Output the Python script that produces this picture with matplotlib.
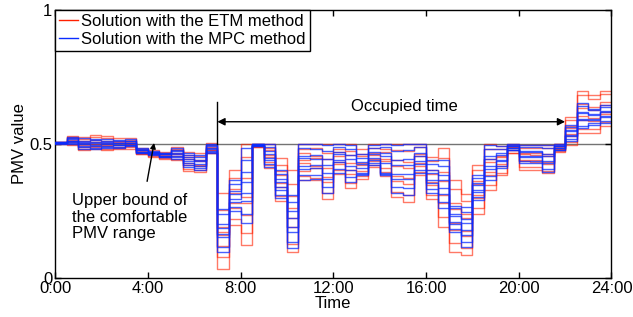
import numpy as np
import matplotlib
matplotlib.use('Agg')
import matplotlib.pyplot as plt
from matplotlib.lines import Line2D

plt.rcParams['font.family'] = ['Liberation Sans', 'DejaVu Sans']

# PMV of each half-hour slot (0:00 ... 23:30), 8 cases per slot
etm_pmv = [
    [0.500, 0.501, 0.502, 0.503, 0.504, 0.506, 0.507, 0.508],
    [0.495, 0.499, 0.506, 0.511, 0.514, 0.520, 0.527, 0.530],
    [0.476, 0.481, 0.489, 0.494, 0.502, 0.509, 0.517, 0.526],
    [0.479, 0.488, 0.493, 0.499, 0.508, 0.513, 0.525, 0.532],
    [0.476, 0.480, 0.490, 0.496, 0.503, 0.512, 0.520, 0.530],
    [0.480, 0.485, 0.489, 0.495, 0.502, 0.508, 0.512, 0.520],
    [0.482, 0.489, 0.493, 0.499, 0.503, 0.507, 0.515, 0.520],
    [0.461, 0.463, 0.467, 0.471, 0.472, 0.477, 0.479, 0.483],
    [0.452, 0.456, 0.459, 0.460, 0.464, 0.469, 0.471, 0.476],
    [0.445, 0.447, 0.451, 0.456, 0.459, 0.461, 0.467, 0.470],
    [0.440, 0.445, 0.455, 0.461, 0.466, 0.476, 0.480, 0.489],
    [0.400, 0.407, 0.421, 0.427, 0.442, 0.449, 0.458, 0.470],
    [0.396, 0.402, 0.417, 0.422, 0.436, 0.441, 0.455, 0.464],
    [0.464, 0.467, 0.475, 0.478, 0.486, 0.489, 0.496, 0.501],
    [0.035, 0.079, 0.118, 0.162, 0.171, 0.189, 0.252, 0.318],
    [0.197, 0.221, 0.262, 0.279, 0.318, 0.330, 0.371, 0.402],
    [0.123, 0.168, 0.236, 0.278, 0.300, 0.371, 0.449, 0.500],
    [0.487, 0.488, 0.492, 0.493, 0.496, 0.497, 0.499, 0.500],
    [0.410, 0.420, 0.433, 0.451, 0.458, 0.477, 0.485, 0.500],
    [0.288, 0.305, 0.339, 0.352, 0.384, 0.398, 0.421, 0.448],
    [0.097, 0.128, 0.190, 0.224, 0.262, 0.306, 0.351, 0.402],
    [0.365, 0.379, 0.398, 0.427, 0.438, 0.466, 0.479, 0.500],
    [0.365, 0.372, 0.408, 0.419, 0.447, 0.456, 0.486, 0.500],
    [0.294, 0.317, 0.358, 0.376, 0.409, 0.445, 0.466, 0.500],
    [0.388, 0.401, 0.425, 0.433, 0.455, 0.470, 0.481, 0.500],
    [0.337, 0.352, 0.389, 0.404, 0.428, 0.459, 0.473, 0.500],
    [0.367, 0.379, 0.397, 0.421, 0.429, 0.455, 0.463, 0.480],
    [0.414, 0.420, 0.436, 0.442, 0.458, 0.466, 0.486, 0.500],
    [0.380, 0.394, 0.411, 0.436, 0.445, 0.470, 0.480, 0.500],
    [0.300, 0.322, 0.362, 0.380, 0.417, 0.439, 0.476, 0.500],
    [0.284, 0.309, 0.350, 0.371, 0.411, 0.433, 0.472, 0.500],
    [0.383, 0.395, 0.419, 0.428, 0.455, 0.462, 0.488, 0.500],
    [0.296, 0.311, 0.345, 0.357, 0.389, 0.401, 0.434, 0.452],
    [0.190, 0.226, 0.279, 0.309, 0.362, 0.393, 0.446, 0.483],
    [0.097, 0.129, 0.180, 0.205, 0.256, 0.281, 0.333, 0.365],
    [0.085, 0.110, 0.156, 0.176, 0.222, 0.240, 0.286, 0.312],
    [0.240, 0.259, 0.297, 0.311, 0.349, 0.362, 0.401, 0.420],
    [0.327, 0.345, 0.383, 0.395, 0.432, 0.445, 0.481, 0.500],
    [0.383, 0.392, 0.418, 0.424, 0.449, 0.455, 0.480, 0.490],
    [0.464, 0.467, 0.476, 0.478, 0.487, 0.489, 0.497, 0.500],
    [0.404, 0.412, 0.434, 0.439, 0.460, 0.465, 0.486, 0.495],
    [0.404, 0.413, 0.432, 0.440, 0.459, 0.466, 0.485, 0.495],
    [0.390, 0.399, 0.424, 0.431, 0.455, 0.461, 0.485, 0.495],
    [0.470, 0.473, 0.480, 0.482, 0.489, 0.491, 0.498, 0.500],
    [0.495, 0.506, 0.529, 0.535, 0.559, 0.565, 0.588, 0.598],
    [0.540, 0.556, 0.590, 0.602, 0.634, 0.647, 0.680, 0.697],
    [0.540, 0.554, 0.585, 0.596, 0.625, 0.636, 0.666, 0.680],
    [0.567, 0.580, 0.609, 0.619, 0.646, 0.656, 0.684, 0.697],
]

mpc_pmv = [
    [0.500, 0.501, 0.502, 0.503, 0.504, 0.505, 0.507, 0.508],
    [0.499, 0.503, 0.505, 0.510, 0.512, 0.517, 0.520, 0.524],
    [0.480, 0.487, 0.490, 0.498, 0.501, 0.508, 0.512, 0.520],
    [0.480, 0.486, 0.492, 0.497, 0.503, 0.507, 0.513, 0.517],
    [0.483, 0.489, 0.492, 0.498, 0.501, 0.507, 0.511, 0.517],
    [0.485, 0.488, 0.494, 0.496, 0.501, 0.503, 0.510, 0.514],
    [0.490, 0.495, 0.496, 0.502, 0.503, 0.509, 0.512, 0.517],
    [0.464, 0.466, 0.470, 0.471, 0.475, 0.476, 0.481, 0.483],
    [0.457, 0.460, 0.461, 0.465, 0.466, 0.470, 0.471, 0.474],
    [0.449, 0.451, 0.455, 0.456, 0.460, 0.461, 0.465, 0.467],
    [0.445, 0.452, 0.455, 0.463, 0.466, 0.474, 0.478, 0.485],
    [0.414, 0.420, 0.429, 0.435, 0.443, 0.449, 0.457, 0.464],
    [0.402, 0.409, 0.419, 0.425, 0.435, 0.441, 0.451, 0.458],
    [0.465, 0.471, 0.474, 0.481, 0.484, 0.491, 0.494, 0.499],
    [0.098, 0.117, 0.152, 0.163, 0.186, 0.201, 0.238, 0.257],
    [0.250, 0.263, 0.284, 0.295, 0.313, 0.324, 0.351, 0.365],
    [0.205, 0.239, 0.286, 0.318, 0.359, 0.394, 0.441, 0.484],
    [0.490, 0.491, 0.494, 0.495, 0.496, 0.498, 0.499, 0.499],
    [0.414, 0.424, 0.439, 0.447, 0.463, 0.472, 0.488, 0.498],
    [0.298, 0.310, 0.329, 0.339, 0.357, 0.370, 0.388, 0.402],
    [0.112, 0.135, 0.170, 0.190, 0.224, 0.248, 0.282, 0.310],
    [0.365, 0.383, 0.405, 0.418, 0.446, 0.456, 0.484, 0.498],
    [0.370, 0.385, 0.408, 0.421, 0.444, 0.459, 0.482, 0.498],
    [0.315, 0.339, 0.369, 0.390, 0.421, 0.444, 0.474, 0.497],
    [0.392, 0.407, 0.431, 0.440, 0.460, 0.469, 0.488, 0.498],
    [0.358, 0.376, 0.401, 0.417, 0.442, 0.458, 0.482, 0.497],
    [0.385, 0.388, 0.392, 0.409, 0.423, 0.431, 0.448, 0.460],
    [0.420, 0.427, 0.441, 0.447, 0.462, 0.470, 0.485, 0.495],
    [0.383, 0.387, 0.392, 0.429, 0.454, 0.464, 0.487, 0.498],
    [0.315, 0.339, 0.370, 0.389, 0.421, 0.440, 0.472, 0.495],
    [0.310, 0.335, 0.367, 0.389, 0.422, 0.443, 0.476, 0.498],
    [0.390, 0.403, 0.424, 0.434, 0.456, 0.466, 0.487, 0.498],
    [0.315, 0.330, 0.354, 0.366, 0.390, 0.402, 0.425, 0.440],
    [0.260, 0.282, 0.314, 0.334, 0.365, 0.385, 0.417, 0.440],
    [0.170, 0.181, 0.201, 0.210, 0.230, 0.238, 0.259, 0.270],
    [0.116, 0.134, 0.162, 0.177, 0.204, 0.219, 0.247, 0.265],
    [0.290, 0.300, 0.320, 0.327, 0.346, 0.354, 0.373, 0.383],
    [0.365, 0.381, 0.405, 0.418, 0.442, 0.455, 0.479, 0.495],
    [0.410, 0.418, 0.436, 0.441, 0.459, 0.464, 0.482, 0.490],
    [0.476, 0.478, 0.484, 0.485, 0.491, 0.492, 0.496, 0.498],
    [0.430, 0.436, 0.452, 0.455, 0.470, 0.473, 0.489, 0.495],
    [0.430, 0.437, 0.451, 0.456, 0.469, 0.474, 0.488, 0.495],
    [0.395, 0.406, 0.427, 0.435, 0.455, 0.463, 0.484, 0.495],
    [0.476, 0.478, 0.484, 0.485, 0.491, 0.492, 0.496, 0.498],
    [0.510, 0.516, 0.530, 0.533, 0.547, 0.550, 0.564, 0.570],
    [0.557, 0.567, 0.587, 0.594, 0.613, 0.620, 0.640, 0.650],
    [0.570, 0.576, 0.590, 0.593, 0.607, 0.610, 0.624, 0.630],
    [0.576, 0.583, 0.598, 0.602, 0.618, 0.622, 0.637, 0.644],
]

x_ticks = [0, 4, 8, 12, 16, 20, 24]
x_tick_labels = ['0:00', '4:00', '8:00', '12:00', '16:00', '20:00', '24:00']
y_ticks = [0, 0.5, 1]
y_tick_labels = ['0', '0.5', '1']
occ_start, occ_end = 7, 22
pmv_upper = 0.5


def main():
    fig = plt.figure(figsize=(6.33, 3.17), dpi=100)
    ax = fig.add_axes([0.087, 0.123, 0.879, 0.847])

    slot_edges = np.arange(len(etm_pmv) + 1) * 0.5
    etm = np.array(etm_pmv)
    mpc = np.array(mpc_pmv)

    ax.axhline(pmv_upper, color='0.45', lw=1.0, zorder=1)

    # 每个工况画一条阶梯线
    for k in range(etm.shape[1]):
        y = np.append(etm[:, k], etm[-1, k])
        ax.step(slot_edges, y, where='post', color='#ff2000', lw=1.0, alpha=0.6, zorder=2)
    for k in range(mpc.shape[1]):
        y = np.append(mpc[:, k], mpc[-1, k])
        ax.step(slot_edges, y, where='post', color='#0a2cff', lw=1.0, alpha=0.75, zorder=3)

    # occupied time marker
    ax.plot([occ_start, occ_start], [pmv_upper, 0.657], color='black', lw=1.0, zorder=4)
    ax.annotate('', xy=(occ_start, 0.582), xytext=(occ_end, 0.582),
                arrowprops=dict(arrowstyle='<|-|>', color='black', lw=1.0,
                                mutation_scale=11, shrinkA=0, shrinkB=0), zorder=4)
    ax.text(15.05, 0.638, 'Occupied time', ha='center', va='center', fontsize=12)

    ax.text(0.75, 0.227, 'Upper bound of\nthe comfortable\nPMV range', ha='left', va='center',
            fontsize=12, linespacing=1.1)
    ax.annotate('', xy=(4.27, 0.503), xytext=(3.97, 0.36),
                arrowprops=dict(arrowstyle='-|>', color='black', lw=1.0, mutation_scale=8,
                                shrinkA=0, shrinkB=0))

    ax.set_xlim(0, 24)
    ax.set_ylim(0, 1)
    ax.set_xticks(x_ticks)
    ax.set_xticklabels(x_tick_labels)
    ax.set_yticks(y_ticks)
    ax.set_yticklabels(y_tick_labels)
    ax.tick_params(direction='in', length=4, width=1, top=True, right=True,
                   labelsize=12, pad=2)
    for s in ax.spines.values():
        s.set_linewidth(1.0)
    ax.set_xlabel('Time', fontsize=12, labelpad=0)
    ax.set_ylabel('PMV value', fontsize=12, labelpad=2)

    handles = [Line2D([0], [0], color='#ff2000', lw=1.0),
               Line2D([0], [0], color='#0a2cff', lw=1.0)]
    leg = ax.legend(handles, ['Solution with the ETM method', 'Solution with the MPC method'],
                    loc='upper left', bbox_to_anchor=(0, 1), borderaxespad=0, fontsize=12,
                    fancybox=False, framealpha=1, edgecolor='black', handlelength=1.1,
                    handletextpad=0.2, borderpad=0.25, labelspacing=0.2)
    leg.get_frame().set_linewidth(1.0)

    fig.savefig('out.png', dpi=100)


if __name__ == '__main__':
    main()
